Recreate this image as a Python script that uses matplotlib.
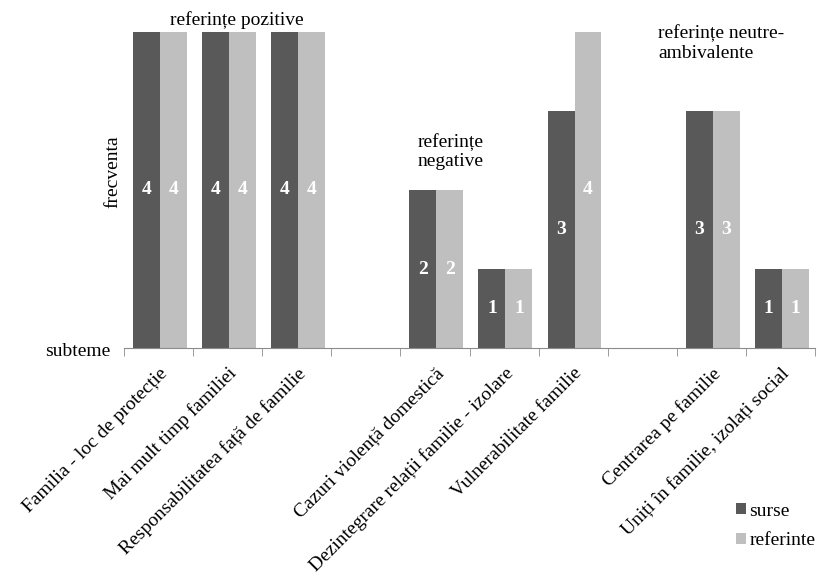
import numpy as np
import matplotlib.pyplot as plt

plt.rcParams['font.family'] = ['Liberation Serif', 'DejaVu Serif']
plt.rcParams['font.size'] = 14

categories = ['Familia - loc de protecție', 'Mai mult timp familiei',
              'Responsabilitatea față de familie', '',
              'Cazuri violență domestică', 'Dezintegrare relații familie - izolare',
              'Vulnerabilitate familie', '',
              'Centrarea pe familie', 'Uniți în familie, izolați social']
surse = [4, 4, 4, np.nan, 2, 1, 3, np.nan, 3, 1]
referinte = [4, 4, 4, np.nan, 2, 1, 4, np.nan, 3, 1]
group_labels = ['referințe pozitive', 'referințe\nnegative', 'referințe neutre-\nambivalente']

dark = '#595959'
light = '#bfbfbf'

fig = plt.figure(figsize=(8.19, 5.76), dpi=100)
ax = fig.add_axes([124/819, 1-348/576, (815-124)/819, (348-32)/576])

x = np.arange(len(categories))
w = 0.39
b1 = ax.bar(x - w/2 + 0.02, surse, w, color=dark, label='surse')
b2 = ax.bar(x + w/2 + 0.02, referinte, w, color=light, label='referinte')

for bars, vals in ((b1, surse), (b2, referinte)):
    for rect, v in zip(bars, vals):
        if np.isnan(v):
            continue
        ax.text(rect.get_x() + rect.get_width()/2, v/2, '%d' % v,
                ha='center', va='center', color='white', fontweight='bold', fontsize=14)

ax.set_xlim(-0.5, len(categories) - 0.5)
ax.set_ylim(0, 4)
ax.set_yticks([])
for s in ['left', 'right', 'top']:
    ax.spines[s].set_visible(False)
ax.spines['bottom'].set_color('#8c8c8c')

ax.set_xticks(np.arange(-0.5, len(categories)), minor=True)
ax.tick_params(axis='x', which='minor', length=6, color='#8c8c8c')
ax.set_xticks(x)
ax.set_xticklabels(categories, rotation=45, ha='right', rotation_mode='anchor')
ax.tick_params(axis='x', which='major', length=0, pad=12)

# group titles
ax.text(1.135, 4.04, group_labels[0], ha='center', va='bottom')
ax.text(3.75, 2.25, group_labels[1], ha='left', va='bottom')
ax.text(7.23, 3.62, group_labels[2], ha='left', va='bottom')

fig.text(113/819, 1-172/576, 'frecventa', rotation=90, ha='center', va='center')
fig.text(110/819, 1-352/576, 'subteme', ha='right', va='center')

ax.legend(loc='center left', bbox_to_anchor=(736/819, 1-526/576),
          bbox_transform=fig.transFigure, frameon=False, borderpad=0, borderaxespad=0,
          handlelength=0.5, handleheight=0.5, labelspacing=0.65, handletextpad=0.2,
          fontsize=14)

fig.savefig('out.png', dpi=100)
